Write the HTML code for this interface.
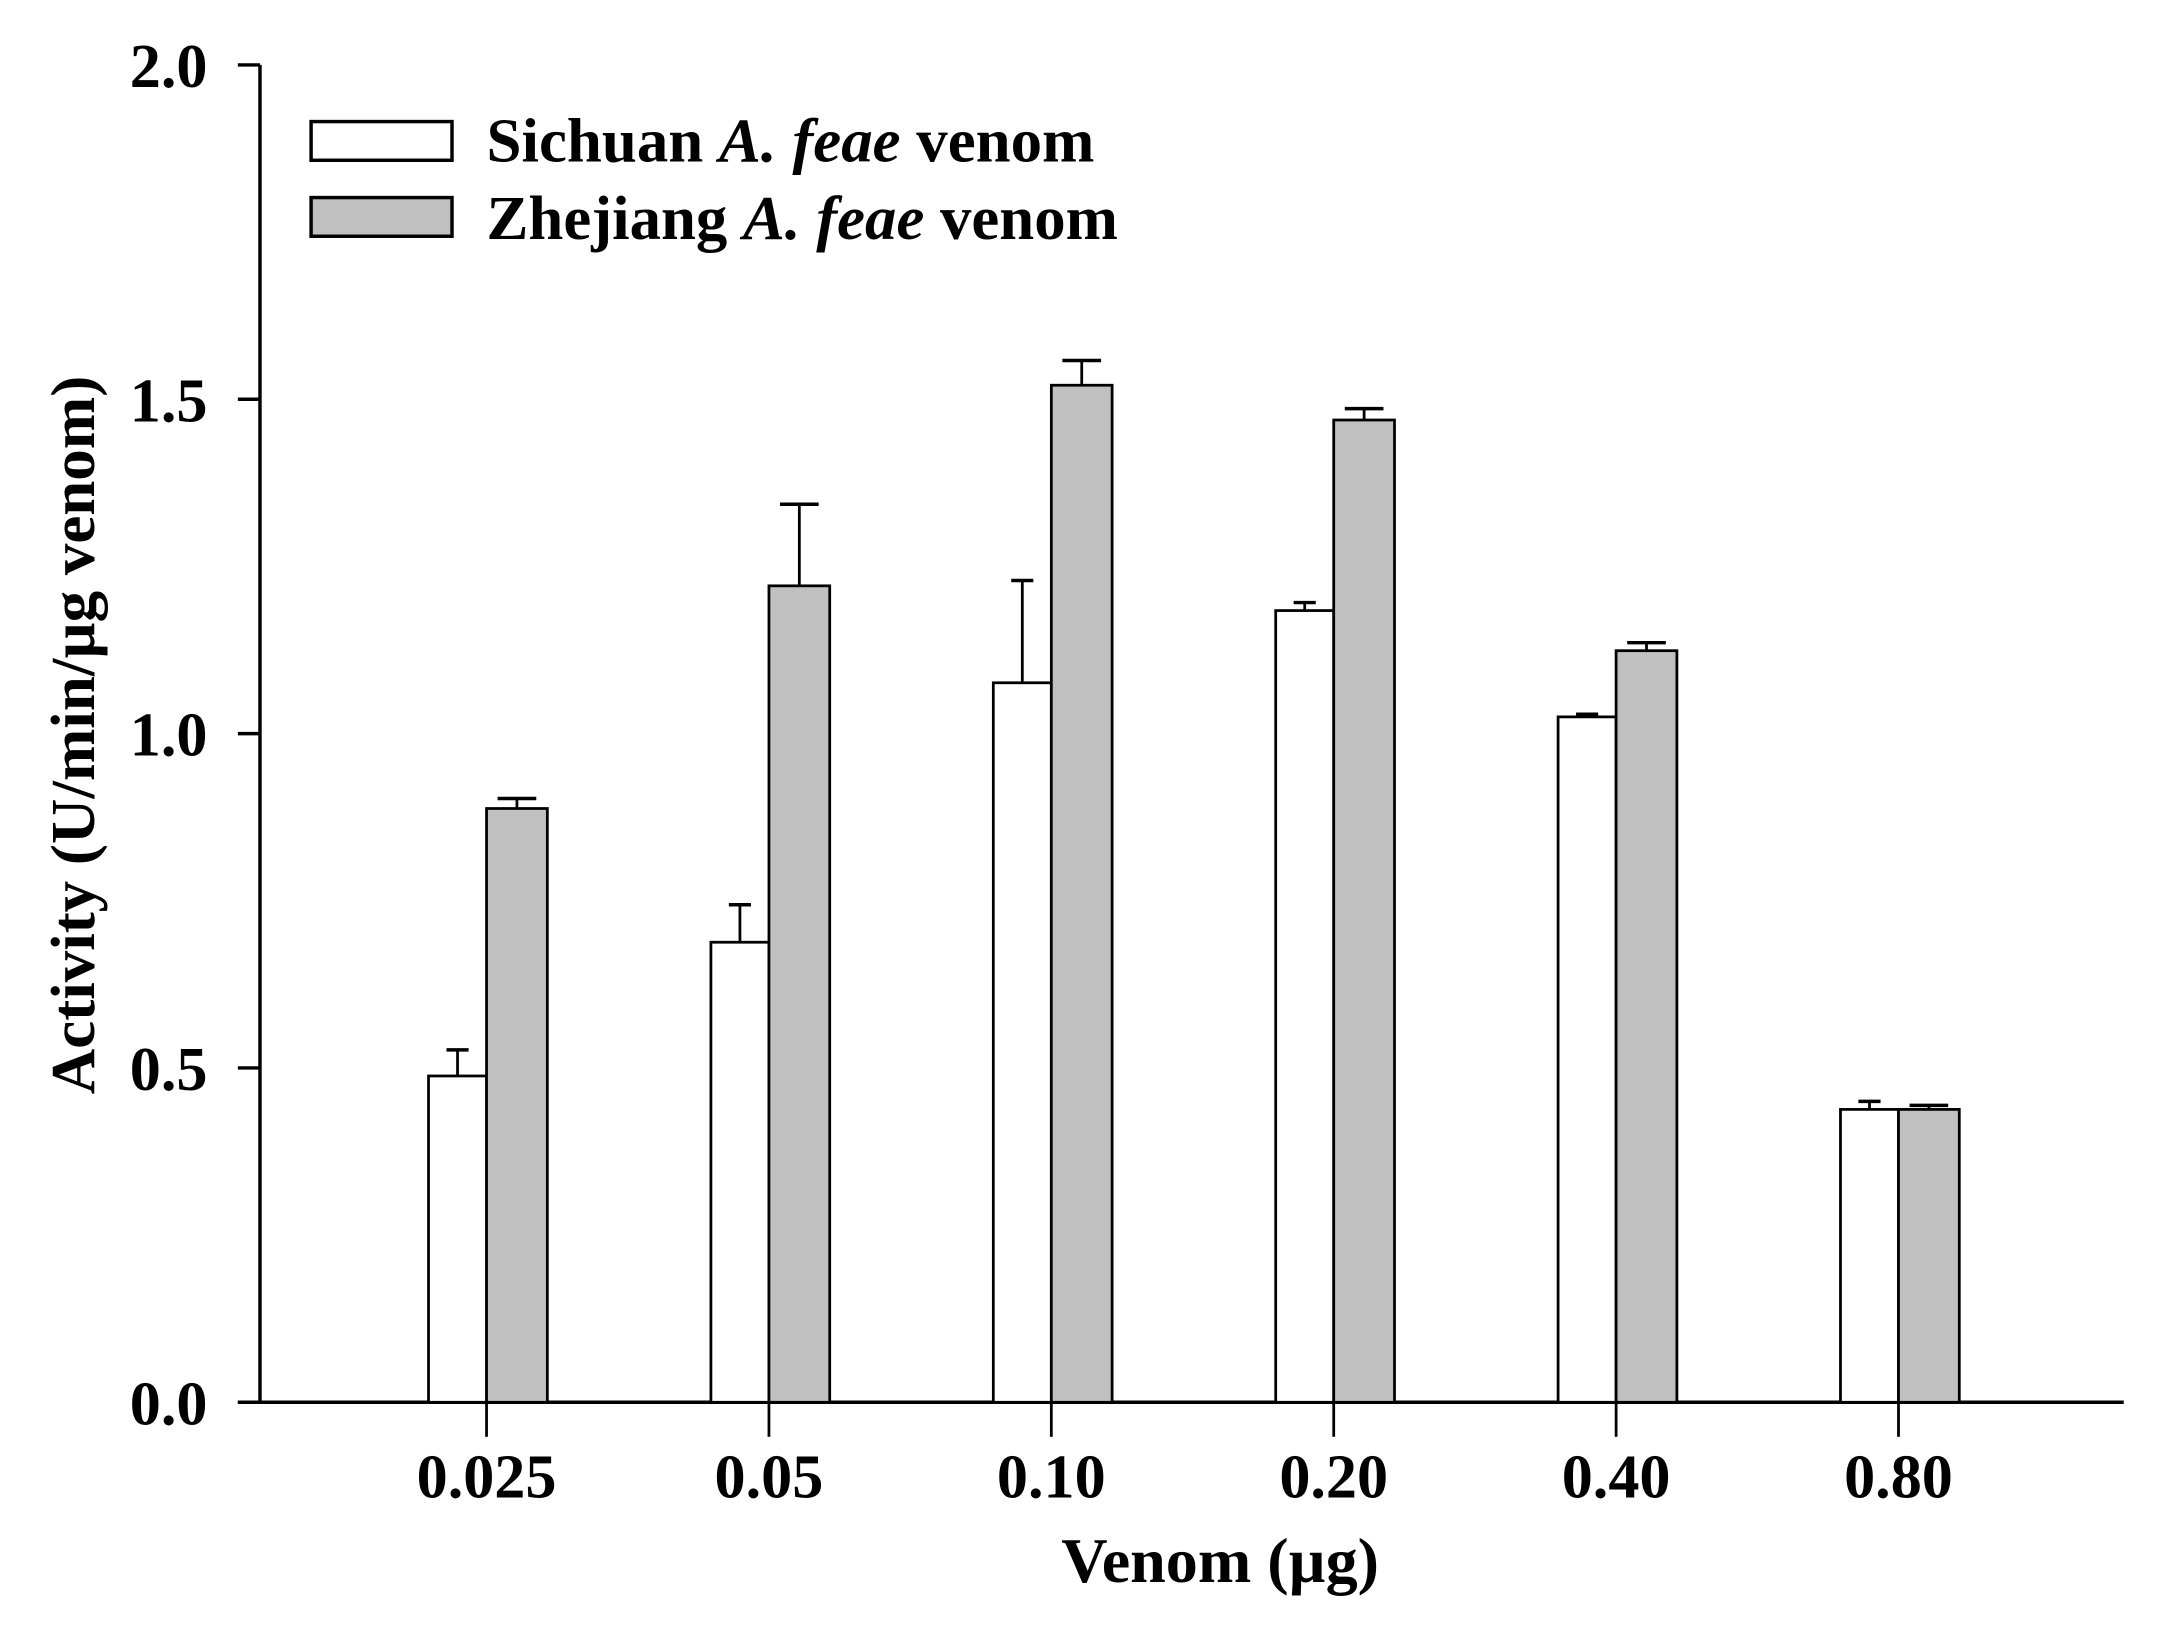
<!DOCTYPE html>
<html><head><meta charset="utf-8"><style>
html,body{margin:0;padding:0;background:#fff;}
svg{display:block;}
text{font-family:"Liberation Serif","Times New Roman",serif;font-weight:bold;fill:#000;}
</style></head><body>
<svg id="chart" width="2164" height="1633" viewBox="0 0 1566 1182" xmlns="http://www.w3.org/2000/svg">
<g id="axes"></g>
<g id="bars"></g>
<g id="legend">
  <rect x="225" y="88" width="102" height="28" fill="#fff" stroke="#000" stroke-width="2.5"/>
  <text x="352" y="117" font-size="45" textLength="440" lengthAdjust="spacingAndGlyphs">Sichuan <tspan font-style="italic">A. feae</tspan> venom</text>
  <rect x="225" y="143" width="102" height="28" fill="#c0c0c0" stroke="#000" stroke-width="2.5"/>
  <text x="352" y="173" font-size="45" textLength="457" lengthAdjust="spacingAndGlyphs">Zhejiang <tspan font-style="italic">A. feae</tspan> venom</text>
</g>
<text transform="translate(68,532) rotate(-90)" text-anchor="middle" font-size="45" textLength="520" lengthAdjust="spacingAndGlyphs">Activity (U/min/µg venom)</text>
<text x="883" y="1145" text-anchor="middle" font-size="46" textLength="230" lengthAdjust="spacingAndGlyphs">Venom (µg)</text>
</svg>
<script>
const categories = ["0.025","0.05","0.10","0.20","0.40","0.80"];
const sichuanValues = [0.488,0.688,1.076,1.184,1.025,0.438];
const sichuanErrors = [0.039,0.056,0.153,0.012,0.004,0.012];
const zhejiangValues = [0.888,1.221,1.521,1.469,1.124,0.438];
const zhejiangErrors = [0.015,0.122,0.037,0.017,0.012,0.006];
const yTicks = [0.0,0.5,1.0,1.5,2.0];
const yTickLabels = ["0.0","0.5","1.0","1.5","2.0"];

const NS="http://www.w3.org/2000/svg";
const X0=188, X1=1537, Y0=1015, YTOP=47, YMAX=2.0;
const firstC=352, stepC=204.4;
function yScale(v){return Y0-(v/YMAX)*(Y0-YTOP);}
function xScale(i){return firstC+i*stepC;}
function mk(tag,attrs,parent){const e=document.createElementNS(NS,tag);for(const k in attrs)e.setAttribute(k,attrs[k]);parent.appendChild(e);return e;}
const axes=document.getElementById('axes'), bars=document.getElementById('bars');

let yl=mk('line',{x1:X0,y1:YTOP,x2:X0,y2:Y0,stroke:'#000','stroke-width':2.5},axes);


yTicks.forEach((t,i)=>{
  const y=yScale(t);
  const tk=mk('line',{x1:172,y1:y,x2:X0,y2:y,stroke:'#000','stroke-width':2.5},axes);
  
  
  const tx=mk('text',{x:150,y:y+16,'text-anchor':'end','font-size':45},axes);
  tx.textContent=yTickLabels[i];
  
  
});

const bw=42, gw=44;
categories.forEach((c,i)=>{
  const cx=xScale(i);
  const sy=yScale(sichuanValues[i]);
  const se=yScale(sichuanValues[i]+sichuanErrors[i]);
  const el1=mk('line',{x1:cx-bw/2,y1:se,x2:cx-bw/2,y2:sy,stroke:'#000','stroke-width':2},bars);
  
  
  const ec1=mk('line',{x1:cx-bw/2-8,y1:se,x2:cx-bw/2+8,y2:se,stroke:'#000','stroke-width':2.5},bars);
  
  
  const b1=mk('rect',{x:cx-bw,y:sy,width:bw,height:Y0-sy,fill:'#fff',stroke:'#000','stroke-width':2},bars);
  
  
  const zy=yScale(zhejiangValues[i]);
  const ze=yScale(zhejiangValues[i]+zhejiangErrors[i]);
  const el2=mk('line',{x1:cx+gw/2,y1:ze,x2:cx+gw/2,y2:zy,stroke:'#000','stroke-width':2},bars);
  
  
  const ec2=mk('line',{x1:cx+gw/2-14,y1:ze,x2:cx+gw/2+14,y2:ze,stroke:'#000','stroke-width':2.5},bars);
  
  
  const b2=mk('rect',{x:cx,y:zy,width:gw,height:Y0-zy,fill:'#c0c0c0',stroke:'#000','stroke-width':2},bars);
  
  
  const xt=mk('line',{x1:cx,y1:Y0,x2:cx,y2:Y0+25,stroke:'#000','stroke-width':2},axes);
  
  
  const xl=mk('text',{x:cx,y:1084,'text-anchor':'middle','font-size':45},axes);
  xl.textContent=c;
  
  
});
let xa=mk('line',{x1:172,y1:Y0,x2:X1,y2:Y0,stroke:'#000','stroke-width':2.5},axes);


</script>
</body></html>
